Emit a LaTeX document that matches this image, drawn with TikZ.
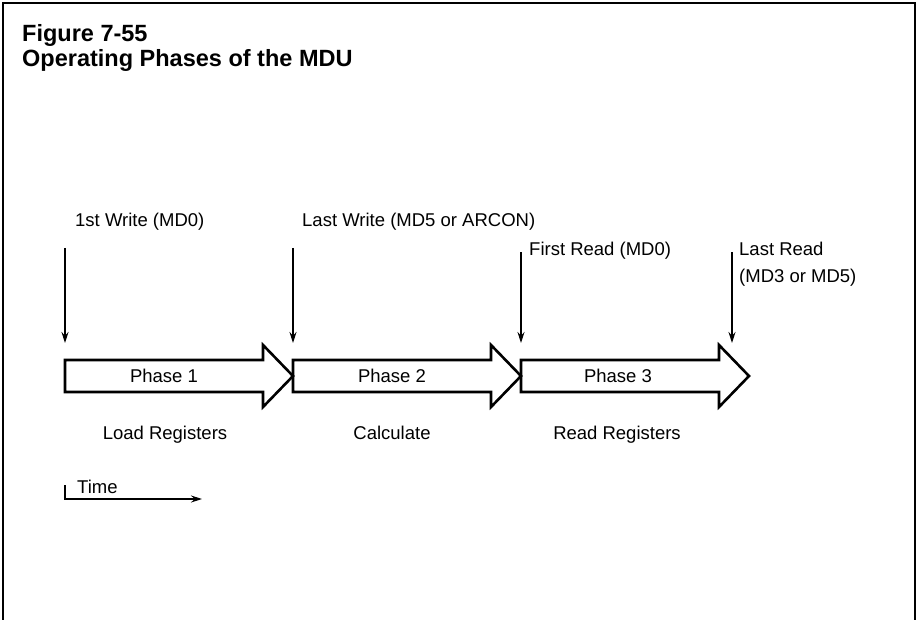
\documentclass[tikz,border=0pt]{standalone}
\usepackage{fontspec}
\setmainfont{Liberation Sans}
\usepackage{tikz}
\usetikzlibrary{positioning, calc, arrows.meta}

\tikzset{
  lbl/.style={inner sep=0pt, font=\fontsize{18.5}{27}\selectfont},
  ttl/.style={inner sep=0pt, anchor=base west, font=\fontsize{23.5}{28}\selectfont\bfseries},
  phase/.style={line width=2.6pt, line join=miter},
  mark arrow/.style={line width=1.2pt, -{Stealth[length=11pt, width=7pt]}}
}

\begin{document}
\begin{tikzpicture}[x=1pt, y=-1pt]
      \useasboundingbox (0,0) rectangle (920,620);

      % Frame
      \draw[line width=1.5pt] (3,620) -- (3,3) -- (915,3) -- (915,620);

      % Title
      \node[ttl] (fig) at (22,42) {Figure 7-55};
      \node[ttl] (title) at (22,67) {Operating Phases of the MDU};

      % Phase arrows
      \draw[phase] (65,360) -- (263,360) -- (263,345) -- (293,376) -- (263,407) -- (263,392) -- (65,392) -- cycle;
      \node[lbl] (p1) at (164,376) {Phase 1};

      \draw[phase] (293,360) -- (491,360) -- (491,345) -- (521,376) -- (491,407) -- (491,392) -- (293,392) -- cycle;
      \node[lbl] (p2) at (392,376) {Phase 2};

      \draw[phase] (521,360) -- (719,360) -- (719,345) -- (749,376) -- (719,407) -- (719,392) -- (521,392) -- cycle;
      \node[lbl] (p3) at (618,376) {Phase 3};

      % Phase names
      \node[lbl, anchor=base] (load) at (165,439) {Load Registers};
      \node[lbl, anchor=base] (calc) at (392,439) {Calculate};
      \node[lbl, anchor=base] (read) at (617,439) {Read Registers};

      % Events
      \node[lbl, anchor=base west] (w1) at (75,227) {1st Write (MD0)};
      \node[lbl, anchor=base west] (w2) at (302,227) {Last Write (MD5 or ARCON)};
      \node[lbl, anchor=base west] (r1) at (529,255) {First Read (MD0)};
      \node[lbl, anchor=north west, align=left] (r2) at (739,242) {Last Read\\(MD3 or MD5)};

      \coordinate (a1) at (65,248);   \coordinate (b1) at (65,343);
      \coordinate (a2) at (293,248);  \coordinate (b2) at (293,343);
      \coordinate (a3) at (521,252);  \coordinate (b3) at (521,343);
      \coordinate (a4) at (732,252);  \coordinate (b4) at (732,343);
      \draw[mark arrow] (a1) -- (b1);
      \draw[mark arrow] (a2) -- (b2);
      \draw[mark arrow] (a3) -- (b3);
      \draw[mark arrow] (a4) -- (b4);

      % Time axis
      \node[lbl, anchor=base west] (time) at (77,493) {Time};
      \coordinate (t0) at (65,485);
      \coordinate (t1) at (202,499);
      \draw[mark arrow] (t0) |- (t1);
    \end{tikzpicture}
\end{document}
